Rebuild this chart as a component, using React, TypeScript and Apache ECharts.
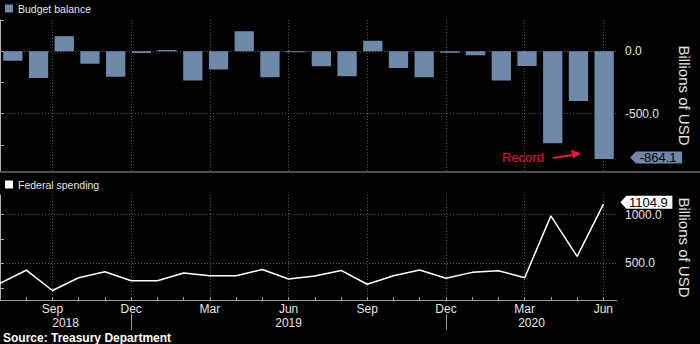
import React, { useEffect, useRef } from 'react';
import * as echarts from 'echarts';

// ---- data ----
const months = ['Jul', 'Aug', 'Sep', 'Oct', 'Nov', 'Dec', 'Jan', 'Feb', 'Mar', 'Apr', 'May', 'Jun',
  'Jul', 'Aug', 'Sep', 'Oct', 'Nov', 'Dec', 'Jan', 'Feb', 'Mar', 'Apr', 'May', 'Jun'];
const years = ['2018', '2019', '2020'];
const budgetBalance = [-76.9, -214.1, 119.1, -100.5, -204.9, -13.5, 8.7, -234.0, -146.9, 160.3, -207.8, -8.5,
  -119.7, -200.3, 82.8, -134.5, -208.8, -13.3, -32.6, -235.3, -119.1, -737.9, -398.8, -864.1];
const federalSpending = [296, 430, 222, 353, 414, 322, 323, 401, 374, 374, 438, 340,
  370, 428, 286, 374, 432, 347, 408, 425, 353, 986, 571, 1104.9];
const balanceTicks = [250, 0, -250, -500, -750];
const balanceLabels = [0, -500];
const spendingTicks = [250, 500, 750, 1000];
const spendingLabels = [500, 1000];
const quarterMonths = ['Sep', 'Dec', 'Mar', 'Jun'];

const X_MAX = 23.52;
const BAR_COLOR = '#6f89ab';
const TEXT = '#e6e6e6';
const GRID_LINE = { color: '#5c5c5c', type: [1, 2] as any, width: 1 };
const FONT = 'Liberation Sans';

export default function App() {
  const ref = useRef<HTMLDivElement>(null);
  useEffect(() => {
    document.body.style.margin = '0';
    document.body.style.background = '#000';
    const chart = echarts.init(ref.current!, null, { renderer: 'svg' });

    const monthIdx = months.map((_, i) => i);
    const quarterIdx = monthIdx.filter((i) => quarterMonths.includes(months[i]));
    const yearBreaks = monthIdx.filter((i) => months[i] === 'Dec');
    const bounds = [0, ...yearBreaks, X_MAX];
    const yearCenters = years.map((_, k) => (bounds[k] + bounds[k + 1]) / 2);
    const barCats = months.map((m, i) => `${m} ${years[yearBreaks.filter((b) => i > b).length]}`);
    const lastBal = budgetBalance[budgetBalance.length - 1];
    const lastSpend = federalSpending[federalSpending.length - 1];

    const hidden = { axisLine: { show: false }, axisTick: { show: false }, axisLabel: { show: false }, splitLine: { show: false } };

    chart.setOption({
      animation: false,
      backgroundColor: '#000',
      textStyle: { fontFamily: FONT },
      legend: [
        {
          data: ['Budget balance'], left: 5, top: 3, padding: 0, itemWidth: 8, itemHeight: 8, itemTextGap: 3,
          icon: 'rect', selectedMode: false, textStyle: { color: TEXT, fontSize: 10.5, fontFamily: FONT },
        },
        {
          data: ['Federal spending'], left: 5, top: 179, padding: 0, itemWidth: 8, itemHeight: 8, itemTextGap: 3,
          icon: 'rect', selectedMode: false, textStyle: { color: TEXT, fontSize: 10.5, fontFamily: FONT },
        },
      ],
      grid: [
        { left: 0, right: 72, top: 20, height: 151 },
        { left: -3, width: 620, top: 20, height: 151 },
        { left: 0, right: 72, top: 195, height: 105 },
      ],
      xAxis: [
        {
          type: 'value', gridIndex: 0, min: 0, max: X_MAX, position: 'bottom',
          axisLine: { show: false }, axisTick: { show: false, customValues: quarterIdx }, axisLabel: { show: false },
          splitLine: { show: true, lineStyle: GRID_LINE },
        },
        { type: 'category', gridIndex: 1, data: barCats, show: false, ...hidden },
        {
          type: 'value', gridIndex: 2, min: 0, max: X_MAX, position: 'bottom',
          axisLine: { show: false }, axisTick: { show: false, customValues: quarterIdx },
          axisLabel: {
            customValues: quarterIdx, formatter: (v: number) => months[Math.round(v)],
            color: TEXT, fontSize: 12, margin: 3, fontFamily: FONT,
          },
          splitLine: { show: true, lineStyle: GRID_LINE },
        },
        {
          type: 'value', gridIndex: 2, min: 0, max: X_MAX, position: 'bottom',
          axisLine: { show: true, lineStyle: { color: '#9a9a9a', width: 1 } },
          axisTick: { show: true, inside: true, length: 3, customValues: monthIdx, lineStyle: { color: '#9a9a9a' } },
          axisLabel: { show: false }, splitLine: { show: false },
        },
        {
          type: 'value', gridIndex: 2, min: 0, max: X_MAX, position: 'bottom', offset: 14,
          axisLine: { show: false },
          axisTick: { show: true, length: 16, customValues: yearBreaks, lineStyle: { color: '#9a9a9a' } },
          axisLabel: {
            customValues: yearCenters,
            formatter: (v: number) => {
              let best = 0;
              yearCenters.forEach((c, k) => { if (Math.abs(c - v) < Math.abs(yearCenters[best] - v)) best = k; });
              return years[best];
            },
            color: TEXT, fontSize: 12, margin: 3, fontFamily: FONT,
          },
          splitLine: { show: false },
        },
      ],
      yAxis: [
        {
          type: 'value', gridIndex: 0, position: 'right', min: -960, max: 250,
          axisLine: { show: true, lineStyle: { color: '#b0b0b0', width: 1 } },
          axisTick: { show: true, length: 4, customValues: balanceTicks, lineStyle: { color: '#b0b0b0' } },
          axisLabel: {
            customValues: balanceLabels, formatter: (v: number) => v.toFixed(1),
            color: TEXT, fontSize: 12, margin: 8, fontFamily: FONT,
          },
          splitLine: { show: false },
          name: 'Billions of USD', nameLocation: 'middle', nameRotate: -90, nameGap: 60,
          nameTextStyle: { color: TEXT, fontSize: 15, fontFamily: FONT },
        },
        {
          type: 'value', gridIndex: 0, position: 'left', min: -960, max: 250,
          axisLine: { show: false }, axisTick: { show: false, customValues: balanceLabels }, axisLabel: { show: false },
          splitLine: { show: true, lineStyle: GRID_LINE },
        },
        { type: 'value', gridIndex: 1, min: -960, max: 250, show: false, ...hidden },
        {
          type: 'value', gridIndex: 2, position: 'right', min: 125, max: 1200,
          axisLine: { show: true, lineStyle: { color: '#b0b0b0', width: 1 } },
          axisTick: { show: true, length: 4, customValues: spendingTicks, lineStyle: { color: '#b0b0b0' } },
          axisLabel: {
            customValues: spendingLabels, formatter: (v: number) => v.toFixed(1),
            color: TEXT, fontSize: 12, margin: 8, fontFamily: FONT,
          },
          splitLine: { show: false },
          name: 'Billions of USD', nameLocation: 'middle', nameRotate: -90, nameGap: 60,
          nameTextStyle: { color: TEXT, fontSize: 15, fontFamily: FONT },
        },
        {
          type: 'value', gridIndex: 2, position: 'left', min: 125, max: 1200,
          axisLine: { show: false }, axisTick: { show: false, customValues: spendingLabels }, axisLabel: { show: false },
          splitLine: { show: true, lineStyle: GRID_LINE },
        },
      ],
      series: [
        {
          name: 'Budget balance', type: 'bar', xAxisIndex: 1, yAxisIndex: 2,
          data: budgetBalance, barWidth: '75%',
          itemStyle: { color: BAR_COLOR },
          markPoint: {
            silent: true,
            symbol: 'path://M0,6L6,0L52,0L52,12L6,12Z', symbolSize: [52, 12], symbolOffset: [52, -1.5],
            itemStyle: { color: BAR_COLOR },
            label: {
              show: true, position: 'inside', offset: [2, 0], color: '#000', fontSize: 13, fontFamily: FONT,
              formatter: (p: any) => Number(p.value).toFixed(1),
            },
            data: [{ coord: [barCats.length - 1, lastBal], value: lastBal }],
          },
        },
        {
          name: 'Federal spending', type: 'line', xAxisIndex: 2, yAxisIndex: 3,
          data: federalSpending.map((v, i) => [i, v]),
          symbol: 'none', lineStyle: { color: '#ffffff', width: 1.5 }, itemStyle: { color: '#ffffff' },
          markPoint: {
            silent: true,
            symbol: 'path://M0,6.5L6,0L52,0L52,13L6,13Z', symbolSize: [52, 13], symbolOffset: [43, -2],
            itemStyle: { color: '#ffffff' },
            label: {
              show: true, position: 'inside', offset: [2, 0], color: '#000', fontSize: 13, fontFamily: FONT,
              formatter: (p: any) => Number(p.value).toFixed(1),
            },
            data: [{ coord: [federalSpending.length - 1, lastSpend], value: lastSpend }],
          },
        },
      ],
      graphic: [
        { type: 'rect', shape: { x: 0, y: 171, width: 700, height: 2 }, style: { fill: '#505050' }, silent: true },
        {
          type: 'text', x: 502, y: 157,
          style: { text: 'Record', fill: '#e8173c', font: `13px "${FONT}"`, verticalAlign: 'middle' },
        },
        { type: 'line', shape: { x1: 553, y1: 158, x2: 576, y2: 154.5 }, style: { stroke: '#e8173c', lineWidth: 2 } },
        { type: 'polygon', shape: { points: [[581, 153.5], [571, 149.5], [573, 158.5]] }, style: { fill: '#e8173c' } },
        {
          type: 'text', x: 3, y: 338,
          style: { text: 'Source: Treasury Department', fill: '#ffffff', font: `bold 12px "${FONT}"`, verticalAlign: 'middle' },
        },
      ],
    });
    return () => chart.dispose();
  }, []);
  return <div ref={ref} style={{ width: 700, height: 344, background: '#000' }} />;
}
